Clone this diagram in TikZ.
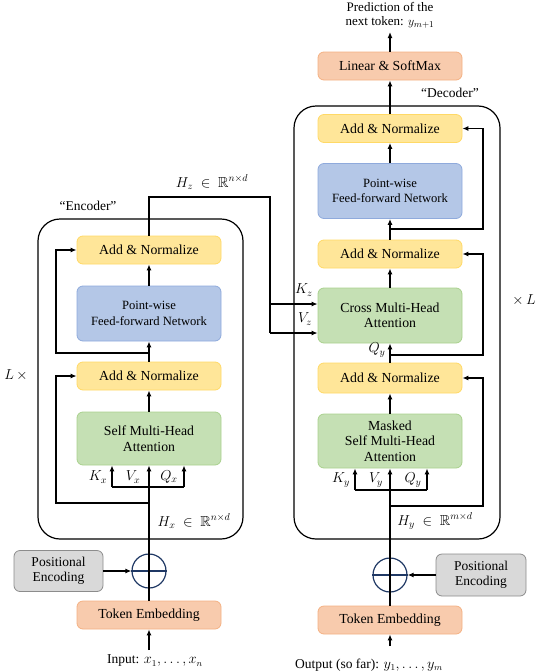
\documentclass[tikz,border=0pt]{standalone}
\usepackage{amssymb}
\usepackage{fontspec}
\setmainfont{Liberation Serif}
\usetikzlibrary{arrows.meta}
\definecolor{yfill}{HTML}{FFE699}
\definecolor{ydraw}{HTML}{FFD966}
\definecolor{bfill}{HTML}{B4C7E7}
\definecolor{bdraw}{HTML}{8FAADC}
\definecolor{gfill}{HTML}{C5E0B4}
\definecolor{gdraw}{HTML}{A9D18E}
\definecolor{ofill}{HTML}{F8CBAD}
\definecolor{odraw}{HTML}{F4B183}
\definecolor{pfill}{HTML}{D9D9D9}
\definecolor{pdraw}{HTML}{8C8C8C}
\definecolor{navy}{HTML}{1F3864}
\tikzset{
  blk/.style={rounded corners=6pt, minimum width=144pt, align=center, inner sep=1pt, line width=0.8pt, font=\fontsize{13.8}{15.5}\selectfont},
  addn/.style={blk, fill=yfill, draw=ydraw, minimum height=28pt},
  ffn/.style={blk, fill=bfill, draw=bdraw, minimum height=55pt, font=\fontsize{12.6}{15.5}\selectfont},
  attn/.style={blk, fill=gfill, draw=gdraw, minimum height=54pt},
  emb/.style={blk, fill=ofill, draw=odraw, minimum height=28pt},
  pe/.style={blk, fill=pfill, draw=pdraw, minimum width=89pt, minimum height=41pt, font=\fontsize{13.5}{15.5}\selectfont},
  plus/.style={circle, draw=navy, line width=1.2pt, minimum size=34pt, inner sep=0pt},
  arr/.style={-{Latex[length=6pt,width=5pt]}, line width=1.5pt},
  ln/.style={line width=1.5pt},
  frame/.style={rounded corners=22pt, line width=1.2pt},
  lbl/.style={font=\fontsize{13.5}{15}\selectfont, inner sep=1pt, align=center},
  mlbl/.style={font=\fontsize{14.5}{15}\selectfont, inner sep=1pt},
}
\begin{document}
\begin{tikzpicture}[x=1pt,y=-1pt]
\useasboundingbox (0,0) rectangle (538,672);

% ---------------- Encoder ----------------
\draw[frame] (38,219) rectangle (243,539);
\node[lbl] (enclbl) at (88,206) {“Encoder”};
\node[mlbl] (elx) at (16,375) {$L\,\times$};

\node[addn] (ean2) at (149,250) {Add \& Normalize};
\node[ffn] (effn) at (149,313.5) {Point-wise\\Feed-forward Network};
\node[addn] (ean1) at (149,376) {Add \& Normalize};
\node[attn, minimum height=53pt] (emha) at (149,438.5) {Self Multi-Head\\Attention};
\node[plus] (eplus) at (149,571) {};
\draw[navy, line width=1.2pt] (eplus.west) -- (eplus.east);
\node[pe] (epe) at (58.5,571) {Positional\\Encoding};
\node[emb] (eemb) at (149,615) {Token Embedding};
\node[lbl] (ein) at (155,661) {Input: $x_1,\ldots,x_n$};

\draw[arr] (149,650) -- (eemb.south);
\draw[ln] (eemb.north) -- (eplus.south);
\draw[arr] (epe.east) -- (eplus.west);
\draw[arr] (eplus.south) -- (emha.south);
\coordinate (ekb) at (112,487);
\coordinate (eqb) at (184,487);
\draw[ln] (ekb) -- (eqb);
\draw[arr] (ekb) -- (ekb |- emha.south);
\draw[arr] (eqb) -- (eqb |- emha.south);
\node[mlbl] (ekx) at (98,477) {$K_x$};
\node[mlbl] (evx) at (133,477) {$V_x$};
\node[mlbl] (eqx) at (169,477) {$Q_x$};
\coordinate (er1) at (149,503);
\draw[arr] (er1) -- (56,503) -- (56,376) -- (ean1.west);
\draw[arr] (emha.north) -- (ean1.south);
\draw[arr] (ean1.north) -- (effn.south);
\coordinate (er2) at (149,353);
\draw[arr] (er2) -- (56,353) -- (56,250) -- (ean2.west);
\draw[arr] (effn.north) -- (ean2.south);
\node[mlbl] (ehx) at (194,521) {$H_x\ \in\ \mathbb{R}^{n\times d}$};

% ---------------- Decoder ----------------
\draw[frame] (294,106) rectangle (500,539);
\node[lbl] (declbl) at (450,93) {“Decoder”};
\node[mlbl] (dlx) at (524,300) {$\times\,L$};

\node[emb] (dlin) at (390,66) {Linear \& SoftMax};
\node[addn] (dan3) at (390,128.5) {Add \& Normalize};
\node[ffn] (dffn) at (390,191) {Point-wise\\Feed-forward Network};
\node[addn] (dan2) at (390,254) {Add \& Normalize};
\node[attn, minimum height=55pt] (dcross) at (390,315.5) {Cross Multi-Head\\Attention};
\node[addn, minimum height=30pt] (dan1) at (390,378) {Add \& Normalize};
\node[attn] (dmha) at (390,441) {Masked\\Self Multi-Head\\Attention};
\node[plus] (dplus) at (390,575) {};
\draw[navy, line width=1.2pt] (dplus.west) -- (dplus.east);
\node[pe, minimum width=90pt, minimum height=42pt] (dpe) at (481,575) {Positional\\Encoding};
\node[emb] (demb) at (390,620) {Token Embedding};
\node[lbl] (dout) at (369,665) {Output (so far): $y_1,\ldots,y_m$};
\node[lbl, font=\fontsize{13}{14.5}\selectfont] (dpred) at (390,15) {Prediction of the\\next token: $y_{m+1}$};

\draw[arr] (390,646) -- (demb.south);
\draw[ln] (demb.north) -- (dplus.south);
\draw[arr] (dpe.west) -- (dplus.east);
\draw[arr] (dplus.south) -- (dmha.south);
\coordinate (dkb) at (355,490);
\coordinate (dqb) at (427,490);
\draw[ln] (dkb) -- (dqb);
\draw[arr] (dkb) -- (dkb |- dmha.south);
\draw[arr] (dqb) -- (dqb |- dmha.south);
\node[mlbl] (dky) at (341,480) {$K_y$};
\node[mlbl] (dvy) at (376,480) {$V_y$};
\node[mlbl] (dqy) at (413,480) {$Q_y$};
\coordinate (dr1) at (390,506);
\draw[arr] (dr1) -- (483,506) -- (483,378) -- (dan1.east);
\draw[arr] (dmha.north) -- (dan1.south);
\draw[arr] (dan1.north) -- (dcross.south);
\node[mlbl] (dqc) at (377,350) {$Q_y$};
\coordinate (dr2) at (390,355);
\draw[arr] (dr2) -- (483,355) -- (483,254) -- (dan2.east);
\draw[arr] (dcross.north) -- (dan2.south);
\draw[arr] (dan2.north) -- (dffn.south);
\coordinate (dr3) at (390,229);
\draw[arr] (dr3) -- (483,229) -- (483,128.5) -- (dan3.east);
\draw[arr] (dffn.north) -- (dan3.south);
\draw[arr] (dan3.north) -- (dlin.south);
\coordinate (dtop) at (390,32);
\draw[arr] (dlin.north) -- (dtop);
\node[mlbl] (dhy) at (435,521) {$H_y\ \in\ \mathbb{R}^{m\times d}$};

% ---------------- Encoder -> Decoder ----------------
\coordinate (hz1) at (149,197);
\coordinate (hz2) at (270,197);
\draw[ln] (ean2.north) -- (hz1) -- (hz2) -- (270,333);
\draw[arr] (270,304) -- (dcross.west |- 0,304);
\draw[arr] (270,333) -- (dcross.west |- 0,333);
\node[mlbl] (hzl) at (212,182) {$H_z\ \in\ \mathbb{R}^{n\times d}$};
\node[mlbl] (kz) at (304,290) {$K_z$};
\node[mlbl] (vz) at (305,319) {$V_z$};
\end{tikzpicture}
\end{document}
